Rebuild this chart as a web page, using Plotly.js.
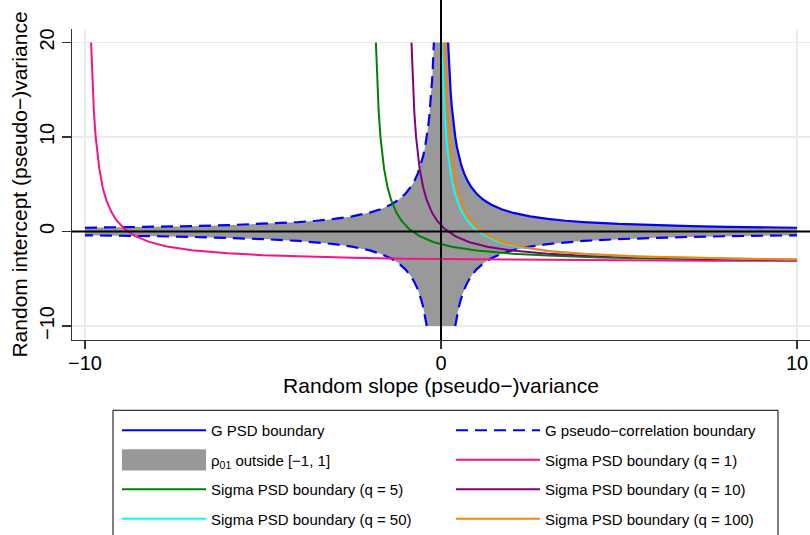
<!DOCTYPE html>
<html><head><meta charset="utf-8">
<script src="https://cdn.plot.ly/plotly-3.0.1.min.js"></script>
<style>html,body{margin:0;padding:0;background:#fff}#chart{width:810px;height:535px}</style>
</head><body><div id="chart"></div>
<script>
// ---- G boundary, positive-slope branch ----
const gUpperX = [0.2, 0.21, 0.22, 0.23, 0.25, 0.27, 0.3, 0.33, 0.36, 0.4, 0.45, 0.5, 0.57, 0.65, 0.75, 0.85, 1, 1.2, 1.4, 1.7, 2, 2.5, 3, 3.5, 4, 5, 6, 7, 8, 9, 10];
const gUpperY = [20, 19.05, 18.18, 17.39, 16, 14.81, 13.33, 12.12, 11.11, 10, 8.89, 8, 7.02, 6.15, 5.33, 4.71, 4, 3.33, 2.86, 2.35, 2, 1.6, 1.33, 1.14, 1, 0.8, 0.67, 0.57, 0.5, 0.44, 0.4];
const gLowerX = [0.4, 0.42, 0.45, 0.5, 0.55, 0.6, 0.67, 0.75, 0.85, 1, 1.2, 1.4, 1.7, 2, 2.5, 3, 3.5, 4, 5, 6, 7, 8, 9, 10];
const gLowerY = [-10, -9.52, -8.89, -8, -7.27, -6.67, -5.97, -5.33, -4.71, -4, -3.33, -2.86, -2.35, -2, -1.6, -1.33, -1.14, -1, -0.8, -0.67, -0.57, -0.5, -0.44, -0.4];

// ---- Sigma PSD boundaries ----
const q1X = [-9.828, -9.8, -9.75, -9.7, -9.6, -9.5, -9.4, -9.25, -9.1, -8.9, -8.6, -8.2, -7.7, -7, -6, -5, -4, -2.5, -1, 1, 3, 5, 7.5, 10];
const q1Y = [20, 16.7, 12.7, 10.03, 6.7, 4.6, 3.3, 2.0, 1.12, 0.32, -0.46, -1.1, -1.58, -1.99, -2.3, -2.5, -2.63, -2.77, -2.87, -2.95, -3.0, -3.04, -3.08, -3.11];
const q5X = [-1.829, -1.8, -1.75, -1.7, -1.6, -1.5, -1.4, -1.25, -1.1, -0.9, -0.6, -0.2, 0.3, 1, 2, 3, 4.5, 6, 8, 10];
const q5Y = [20, 16.65, 12.65, 9.98, 6.65, 4.65, 3.32, 1.98, 1.09, 0.29, -0.49, -1.13, -1.61, -2.02, -2.35, -2.55, -2.74, -2.85, -2.95, -3.02];
const q10X = [-0.829, -0.8, -0.75, -0.7, -0.6, -0.5, -0.4, -0.25, -0.1, 0.1, 0.4, 0.8, 1.3, 2, 3, 4, 5.5, 7, 8.5, 10];
const q10Y = [20, 16.65, 12.65, 9.98, 6.65, 4.65, 3.32, 1.98, 1.09, 0.29, -0.49, -1.13, -1.61, -2.02, -2.35, -2.55, -2.73, -2.85, -2.93, -2.99];
const q50X = [0.021, 0.04, 0.07, 0.1, 0.15, 0.2, 0.3, 0.4, 0.55, 0.7, 0.9, 1.2, 1.6, 2.2, 3, 4, 5.5, 7, 8.5, 10];
const q50Y = [20, 17.7, 14.83, 12.65, 9.98, 8.08, 5.54, 3.92, 2.36, 1.36, 0.46, -0.39, -1.06, -1.65, -2.08, -2.39, -2.64, -2.79, -2.89, -2.96];
const q100X = [0.111, 0.13, 0.16, 0.19, 0.24, 0.29, 0.39, 0.49, 0.64, 0.79, 0.99, 1.29, 1.69, 2.29, 3.09, 4.09, 5.59, 7.09, 8.59, 10];
const q100Y = [20, 17.7, 14.83, 12.65, 9.98, 8.08, 5.54, 3.92, 2.36, 1.36, 0.46, -0.39, -1.06, -1.65, -2.08, -2.39, -2.64, -2.79, -2.89, -2.95];

// ---- ticks & labels ----
const xTickVals = [-10, 0, 10];
const xTickText = ['\u221210', '0', '10'];
const yTickVals = [-10, 0, 10, 20];
const yTickText = ['\u221210', '0', '10', '20'];
const xTitle = 'Random slope (pseudo\u2212)variance';
const yTitle = 'Random intercept (pseudo\u2212)variance';
const nameGPSD = 'G PSD boundary';
const nameGCorr = 'G pseudo\u2212correlation boundary';
const nameRho = '\u03c1<sub>01</sub> outside [\u22121, 1]';
const nameQ1 = 'Sigma PSD boundary (q = 1)';
const nameQ5 = 'Sigma PSD boundary (q = 5)';
const nameQ10 = 'Sigma PSD boundary (q = 10)';
const nameQ50 = 'Sigma PSD boundary (q = 50)';
const nameQ100 = 'Sigma PSD boundary (q = 100)';

// mirrored branch for negative slope variance
const negRev = a => a.slice().reverse().map(v => -v);
const rev = a => a.slice().reverse();

const polyX = [].concat(negRev(gUpperX), gUpperX, rev(gLowerX), gLowerX.map(v => -v));
const polyY = [].concat(rev(gUpperY), gUpperY, rev(gLowerY), gLowerY);
const dashX = [].concat(negRev(gUpperX), [null], gLowerX.map(v => -v), [null], gLowerX);
const dashY = [].concat(rev(gUpperY), [null], gLowerY, [null], gLowerY);

const W = 2;
function curve(x, y, name, color, legend, rank, extra) {
  return Object.assign({type: 'scatter', mode: 'lines', x: x, y: y, name: name,
    line: {color: color, width: W}, legend: legend, legendgroup: name, legendrank: rank,
    hoverinfo: 'skip'}, extra || {});
}

const traces = [
  {type: 'scatter', mode: 'lines', x: polyX, y: polyY, fill: 'toself', fillcolor: '#999999',
   line: {width: 0, color: '#999999'}, name: nameRho, legend: 'legend', legendgroup: 'rho', legendrank: 2, hoverinfo: 'skip'},
  curve(dashX, dashY, nameGCorr, '#0000ff', 'legend2', 1, {line: {color: '#0000ff', width: 2.2, dash: '12px,7px'}}),
  curve(gUpperX, gUpperY, nameGPSD, '#0000ff', 'legend', 1, {line: {color: '#0000ff', width: 2.2}}),
  curve(q1X, q1Y, nameQ1, '#f7118a', 'legend2', 2),
  curve(q5X, q5Y, nameQ5, '#008000', 'legend', 3),
  curve(q10X, q10Y, nameQ10, '#800080', 'legend2', 3),
  curve(q50X, q50Y, nameQ50, '#00ffff', 'legend', 4),
  curve(q100X, q100Y, nameQ100, '#ff8000', 'legend2', 4)
];

// pixel helpers for paper-coordinate decorations
const L = 72, T = 29, PW = 738, PH = 312;
const px = v => (v - L) / PW;
const py = v => (T + PH - v) / PH;

const legendCommon = {
  orientation: 'v', xanchor: 'left', yanchor: 'top', traceorder: 'grouped',
  tracegroupgap: 7, itemwidth: 84, bgcolor: 'rgba(0,0,0,0)', borderwidth: 0,
  font: {size: 15, color: '#000', family: 'Liberation Sans, Arial, sans-serif'}
};

const layout = {
  width: 810, height: 535,
  margin: {l: L, r: 0, t: T, b: 535 - T - PH, pad: 0},
  paper_bgcolor: '#ffffff', plot_bgcolor: '#ffffff',
  font: {family: 'Liberation Sans, Arial, sans-serif', color: '#000'},
  showlegend: true,
  xaxis: {
    range: [-10.365, 10.365], tickmode: 'array', tickvals: xTickVals, ticktext: xTickText,
    ticks: 'outside', ticklen: 8, tickwidth: 1.2, tickcolor: '#333', ticklabelstandoff: -3,
    showline: true, linecolor: '#333', linewidth: 1.2, mirror: false,
    showgrid: true, gridcolor: '#e6eef0', gridwidth: 1.5, zeroline: false,
    tickfont: {size: 20, color: '#000'},
    title: {text: xTitle, font: {size: 21, color: '#000'}, standoff: 5},
    automargin: false, fixedrange: true
  },
  yaxis: {
    range: [-11.476, 21.424], tickmode: 'array', tickvals: yTickVals, ticktext: yTickText,
    tickangle: -90, ticks: 'outside', ticklen: 9, tickwidth: 1.2, tickcolor: '#333',
    showline: true, linecolor: '#333', linewidth: 1.2,
    showgrid: true, gridcolor: '#e6eef0', gridwidth: 1.5, zeroline: false,
    tickfont: {size: 20, color: '#000'},
    title: {text: yTitle, font: {size: 21, color: '#000'}, standoff: 2},
    automargin: false, fixedrange: true
  },
  legend: Object.assign({x: px(117), y: py(415.75)}, legendCommon),
  legend2: Object.assign({x: px(451), y: py(415.75)}, legendCommon),
  shapes: [
    {type: 'line', xref: 'paper', yref: 'y', x0: 0, x1: 1, y0: 0, y1: 0, layer: 'above', line: {color: '#000', width: 2}},
    {type: 'line', xref: 'x', yref: 'paper', x0: 0, x1: 0, y0: 0, y1: py(0), layer: 'above', line: {color: '#000', width: 2}},
    {type: 'rect', xref: 'paper', yref: 'paper', x0: px(113), x1: px(778), y0: py(411.5), y1: py(545), layer: 'above', line: {color: '#000', width: 1}, fillcolor: 'rgba(0,0,0,0)'},
    {type: 'rect', xref: 'paper', yref: 'paper', x0: px(122), x1: px(206), y0: py(450.5), y1: py(472), layer: 'above', line: {width: 0}, fillcolor: '#999999'}
  ],
  hovermode: false
};

Plotly.newPlot('chart', traces, layout, {staticPlot: true, displayModeBar: false});
</script></body></html>
